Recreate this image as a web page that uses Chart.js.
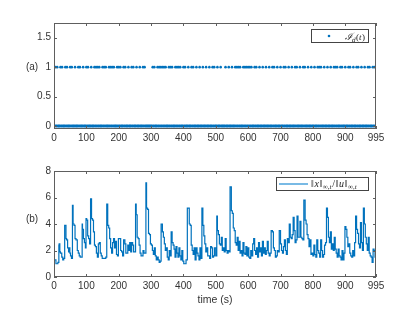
<!DOCTYPE html>
<html>
<head>
<meta charset="utf-8">
<script src="https://cdn.jsdelivr.net/npm/chart.js@4.4.0/dist/chart.umd.min.js"></script>
<style>
body { margin: 0; background: #fff; }
#wrap { position: relative; width: 415px; height: 312px; }
canvas { position: absolute; left: 0; }
</style>
</head>
<body>
<div id="wrap">
  <canvas id="top" width="415" height="150" style="top:0"></canvas>
  <canvas id="bottom" width="415" height="162" style="top:150px"></canvas>
</div>
<script>
// x ticks shared by both panels
const xTicks = [0, 100, 200, 300, 400, 500, 600, 700, 800, 900, 995];
const yTicksTop = [0, 0.5, 1, 1.5];
const yTicksBottom = [0, 2, 4, 6, 8];

// (a) indicator: times (s) where I_d(t) = 1, every other second is 0
const tEnd = 995;
const onTimes = [0, 5, 10, 20, 25, 35, 40, 50, 55, 65, 75, 80, 90, 100, 105, 115, 125, 130, 135, 140,
  150, 155, 160, 170, 175, 180, 185, 195, 200, 205, 215, 220, 230, 240, 245, 255, 265, 275, 280,
  305, 310, 320, 325, 330, 335, 340, 345, 355, 360, 365, 375, 380, 385, 390, 400, 405, 415, 425, 430,
  440, 450, 460, 470, 480, 490, 495, 505, 515, 530, 540, 550, 560, 565, 570, 575, 585, 590, 595, 600,
  605, 610, 620, 625, 635, 645, 655, 665, 675, 680, 690, 700, 710, 715, 725, 735, 745, 750, 760, 770,
  775, 785, 795, 805, 815, 820, 825, 835, 845, 855, 865, 870, 875, 885, 890, 900, 910, 915, 925, 935,
  940, 950, 960, 970, 975, 985, 990, 995];

// (b) ratio ||x||/||u||
const ratioTimes = [0, 3, 6, 8, 12, 15, 16, 18, 20, 24, 27, 30, 33, 34, 37, 39, 42, 45, 47, 49,
  51, 54, 57, 59, 62, 65, 68, 72, 75, 78, 81, 84, 87, 88, 91, 94, 97, 99, 101, 104,
  107, 110, 113, 116, 119, 122, 125, 128, 131, 134, 137, 140, 143, 146, 149, 152, 155, 160, 163, 166,
  169, 172, 175, 178, 181, 184, 187, 190, 193, 196, 199, 203, 206, 209, 212, 215, 219, 222, 225, 228,
  231, 234, 237, 240, 243, 246, 249, 252, 254, 257, 260, 263, 266, 269, 272, 275, 278, 281, 284, 286,
  289, 292, 295, 298, 301, 304, 307, 310, 313, 316, 319, 322, 325, 328, 331, 335, 338, 341, 344, 347,
  350, 353, 356, 359, 362, 365, 368, 371, 374, 377, 380, 383, 386, 389, 392, 395, 398, 401, 404, 408,
  412, 418, 421, 424, 427, 430, 433, 436, 439, 442, 445, 448, 451, 454, 457, 460, 463, 466, 469, 472,
  475, 478, 481, 484, 487, 490, 493, 496, 500, 503, 505, 508, 511, 514, 517, 520, 523, 526, 529, 532,
  535, 538, 541, 544, 548, 551, 554, 557, 560, 563, 566, 569, 572, 575, 578, 581, 584, 587, 590, 593,
  596, 599, 602, 605, 608, 611, 614, 617, 620, 623, 626, 629, 632, 635, 638, 641, 644, 647, 650, 653,
  656, 659, 662, 665, 668, 671, 675, 678, 681, 684, 687, 690, 693, 696, 700, 703, 706, 709, 712, 715,
  718, 721, 724, 727, 730, 733, 736, 739, 742, 745, 748, 751, 754, 757, 760, 763, 766, 769, 772, 776,
  779, 782, 785, 788, 791, 794, 797, 800, 803, 806, 809, 812, 815, 818, 821, 824, 827, 830, 833, 836,
  839, 842, 845, 848, 851, 854, 857, 860, 863, 866, 869, 872, 875, 878, 881, 884, 887, 890, 893, 896,
  899, 902, 905, 908, 911, 914, 917, 920, 923, 926, 929, 932, 935, 938, 941, 944, 947, 950, 953, 956,
  959, 962, 965, 968, 971, 974, 977, 980, 983, 986, 989, 992, 995];
const ratioValues = [0.8, 1.3, 1.3, 1.0, 1.0, 1.1, 2.4, 2.5, 1.9, 1.8, 1.5, 1.3, 1.4, 3.9, 3.9, 2.9, 2.8, 2.2, 1.9, 2.2,
  1.8, 1.6, 1.4, 5.4, 4.0, 3.9, 2.9, 2.8, 2.0, 1.8, 1.6, 1.5, 1.5, 4.0, 3.6, 2.9, 2.6, 2.2, 4.4, 4.3,
  3.1, 2.9, 2.5, 5.9, 4.4, 4.3, 3.4, 2.4, 2.3, 1.8, 1.5, 2.5, 2.6, 1.8, 1.6, 1.4, 1.4, 1.4, 1.5, 5.5,
  3.9, 3.7, 2.9, 2.2, 1.8, 2.6, 2.9, 2.2, 2.7, 1.7, 1.6, 2.9, 2.9, 2.0, 1.9, 1.6, 2.8, 2.5, 1.8, 1.8,
  2.4, 2.0, 2.6, 1.9, 2.6, 2.4, 1.9, 1.9, 5.5, 4.7, 3.0, 2.9, 2.4, 1.8, 1.6, 1.6, 2.0, 1.8, 1.8, 7.1,
  5.2, 5.1, 3.3, 3.2, 2.5, 2.4, 2.0, 1.7, 2.2, 1.6, 1.3, 1.5, 1.3, 1.1, 1.2, 4.0, 3.4, 3.0, 2.5, 2.0,
  2.2, 1.5, 1.3, 2.0, 1.6, 3.4, 2.6, 2.4, 2.1, 1.5, 2.3, 1.8, 1.5, 2.2, 1.6, 1.3, 2.0, 1.2, 1.0, 1.0,
  1.3, 5.2, 4.0, 3.9, 2.4, 2.0, 1.7, 2.2, 1.3, 2.2, 1.8, 1.6, 1.3, 2.2, 1.4, 5.2, 3.9, 3.1, 2.5, 1.9,
  2.2, 1.6, 1.6, 1.4, 2.3, 2.2, 1.5, 1.6, 2.2, 1.6, 4.6, 3.5, 3.2, 2.5, 2.4, 3.0, 2.0, 2.2, 1.9, 2.9,
  2.0, 1.8, 2.0, 1.9, 6.8, 5.0, 4.8, 3.7, 3.5, 2.6, 2.4, 3.0, 2.0, 2.7, 1.8, 2.0, 1.6, 2.6, 1.8, 1.7,
  2.3, 1.6, 2.2, 1.5, 1.4, 2.0, 1.6, 2.5, 2.9, 2.0, 1.7, 2.2, 1.5, 2.6, 1.9, 2.2, 1.6, 2.7, 1.8, 2.2,
  1.7, 2.0, 2.7, 1.8, 1.6, 1.8, 3.5, 3.4, 2.2, 2.0, 1.5, 1.6, 2.0, 1.9, 3.5, 2.5, 2.0, 1.8, 2.3, 2.8,
  2.0, 1.7, 2.9, 2.6, 4.0, 3.0, 2.9, 3.2, 4.5, 3.5, 2.6, 2.8, 4.6, 3.0, 3.0, 4.2, 3.0, 2.9, 2.8, 5.8,
  4.3, 4.0, 3.2, 2.9, 2.3, 2.8, 1.7, 1.8, 1.6, 2.4, 1.7, 1.5, 2.8, 2.0, 1.8, 1.5, 2.8, 2.0, 1.5, 1.7,
  2.4, 2.6, 5.2, 4.5, 3.0, 2.6, 3.4, 2.1, 2.5, 2.0, 3.0, 2.1, 1.8, 1.5, 2.1, 1.6, 1.5, 1.3, 2.0, 1.3,
  1.8, 3.8, 3.6, 3.0, 2.3, 2.5, 1.8, 1.6, 1.5, 2.0, 1.6, 2.6, 4.6, 3.6, 3.3, 2.5, 2.2, 4.1, 2.6, 2.0,
  5.2, 4.0, 3.0, 2.5, 2.0, 3.0, 1.8, 1.6, 1.5, 1.1, 2.1, 2.0, 1.5];

const blue = '#0072BD';
const axisColor = '#5e5e5e';
const textColor = '#333333';
const tickFont = { family: 'Liberation Sans, Arial, sans-serif', size: 10 };

const onPoints = onTimes.map(t => ({ x: t, y: 1 }));
const offPoints = [];
for (let t = 0; t <= tEnd; t++) {
    if (!onTimes.includes(t)) offPoints.push({ x: t, y: 0 });
}
const ratioPoints = ratioTimes.map((t, i) => ({ x: t, y: ratioValues[i] }));

// MATLAB style box with inward ticks, side label and legend
function matlabAxes(label, legendDraw) {
    return {
        id: 'matlabAxes',
        afterDraw(chart) {
            const ctx = chart.ctx;
            const a = chart.chartArea;
            const xs = chart.scales.x, ys = chart.scales.y;
            ctx.save();
            ctx.strokeStyle = axisColor;
            ctx.lineWidth = 1;
            ctx.strokeRect(a.left + 0.5, a.top + 0.5, a.right - a.left - 1, a.bottom - a.top - 1);
            ctx.beginPath();
            xs.ticks.forEach(t => {
                const px = Math.round(xs.getPixelForValue(t.value)) + 0.5;
                ctx.moveTo(px, a.bottom); ctx.lineTo(px, a.bottom - 3);
                ctx.moveTo(px, a.top); ctx.lineTo(px, a.top + 3);
            });
            ys.ticks.forEach(t => {
                const py = Math.round(ys.getPixelForValue(t.value)) + 0.5;
                ctx.moveTo(a.left, py); ctx.lineTo(a.left + 3, py);
                ctx.moveTo(a.right, py); ctx.lineTo(a.right - 3, py);
            });
            ctx.stroke();

            ctx.fillStyle = textColor;
            ctx.font = '10px Liberation Sans, Arial, sans-serif';
            ctx.textAlign = 'center';
            ctx.textBaseline = 'middle';
            ctx.fillText(label.text, 32, label.y);

            legendDraw(ctx, chart);
            ctx.restore();
        }
    };
}

function legendBox(ctx, x, y, w, h) {
    ctx.fillStyle = '#fff';
    ctx.fillRect(x, y, w, h);
    ctx.strokeStyle = '#444';
    ctx.lineWidth = 1;
    ctx.strokeRect(x + 0.5, y + 0.5, w, h);
}

function scaleOpts(ticks, min, max) {
    return {
        type: 'linear',
        min: min,
        max: max,
        afterBuildTicks: s => { s.ticks = ticks.map(v => ({ value: v })); },
        grid: { display: false, drawTicks: false, tickLength: 0 },
        border: { display: false },
        ticks: {
            font: tickFont,
            color: textColor,
            padding: 3,
            maxRotation: 0,
            autoSkip: false,
            callback: v => String(v)
        }
    };
}

// (a)
const topX = scaleOpts(xTicks, 0, 995);
topX.afterFit = s => { s.height = 21; };
const topY = scaleOpts(yTicksTop, -0.05, 1.75);
topY.afterFit = s => { s.width = 54; };

new Chart(document.getElementById('top'), {
    type: 'scatter',
    data: {
        datasets: [
            { data: offPoints, backgroundColor: blue, pointRadius: 1.3, pointBorderWidth: 0 },
            { data: onPoints, backgroundColor: blue, pointRadius: 1.3, pointBorderWidth: 0 }
        ]
    },
    options: {
        responsive: false,
        animation: false,
        layout: { padding: { top: 23, right: 39, left: 0, bottom: 0 } },
        plugins: { legend: { display: false }, tooltip: { enabled: false } },
        scales: { x: topX, y: topY }
    },
    plugins: [matlabAxes({ text: '(a)', y: 67 }, (ctx) => {
        legendBox(ctx, 311, 29, 57, 13);
        ctx.fillStyle = blue;
        ctx.beginPath();
        ctx.arc(329, 36, 1.3, 0, Math.PI * 2);
        ctx.fill();
        ctx.fillStyle = '#222';
        ctx.textAlign = 'left';
        ctx.textBaseline = 'alphabetic';
        ctx.font = 'italic 10px DejaVu Serif, Liberation Serif, serif';
        ctx.fillText('\u2110', 345, 40);
        ctx.font = 'italic 6px DejaVu Serif, Liberation Serif, serif';
        ctx.fillText('d', 352, 42);
        ctx.font = '9px Liberation Serif, serif';
        ctx.fillText('(', 356, 40);
        ctx.font = 'italic 9px Liberation Serif, serif';
        ctx.fillText('t', 359, 40);
        ctx.font = '9px Liberation Serif, serif';
        ctx.fillText(')', 362, 40);
    })]
});

// (b)
const botX = scaleOpts(xTicks, 0, 995);
botX.afterFit = s => { s.height = 35; };
const botY = scaleOpts(yTicksBottom, 0, 8);
botY.afterFit = s => { s.width = 54; };

new Chart(document.getElementById('bottom'), {
    type: 'line',
    data: {
        datasets: [{
            data: ratioPoints,
            borderColor: blue,
            borderWidth: 1.2,
            pointRadius: 0,
            stepped: 'after',
            fill: false
        }]
    },
    options: {
        responsive: false,
        animation: false,
        layout: { padding: { top: 21, right: 39, left: 0, bottom: 0 } },
        plugins: { legend: { display: false }, tooltip: { enabled: false } },
        scales: { x: botX, y: botY }
    },
    plugins: [matlabAxes({ text: '(b)', y: 69 }, (ctx) => {
        legendBox(ctx, 276, 27, 92, 13);
        ctx.strokeStyle = '#4da3dd';
        ctx.lineWidth = 1.5;
        ctx.beginPath();
        ctx.moveTo(279, 34); ctx.lineTo(308, 34);
        ctx.stroke();
        ctx.fillStyle = '#222';
        ctx.textAlign = 'left';
        ctx.textBaseline = 'alphabetic';
        const parts = [
            ['\u2016', '10px Liberation Serif, serif', 0],
            ['x', 'italic 10px Liberation Serif, serif', 0],
            ['\u2016', '10px Liberation Serif, serif', 0],
            ['\u221E,t', 'italic 7px Liberation Serif, serif', 2],
            ['/', '10px Liberation Serif, serif', 0],
            ['\u2016', '10px Liberation Serif, serif', 0],
            ['u', 'italic 10px Liberation Serif, serif', 0],
            ['\u2016', '10px Liberation Serif, serif', 0],
            ['\u221E,t', 'italic 7px Liberation Serif, serif', 2]
        ];
        let px = 311;
        parts.forEach(p => {
            ctx.font = p[1];
            ctx.fillText(p[0], px, 37 + p[2]);
            px += ctx.measureText(p[0]).width + 0.6;
        });
        ctx.fillStyle = textColor;
        ctx.textAlign = 'center';
        ctx.textBaseline = 'middle';
        ctx.font = '10.5px Liberation Sans, Arial, sans-serif';
        ctx.fillText('time (s)', 215, 150);
    })]
});
</script>
</body>
</html>
